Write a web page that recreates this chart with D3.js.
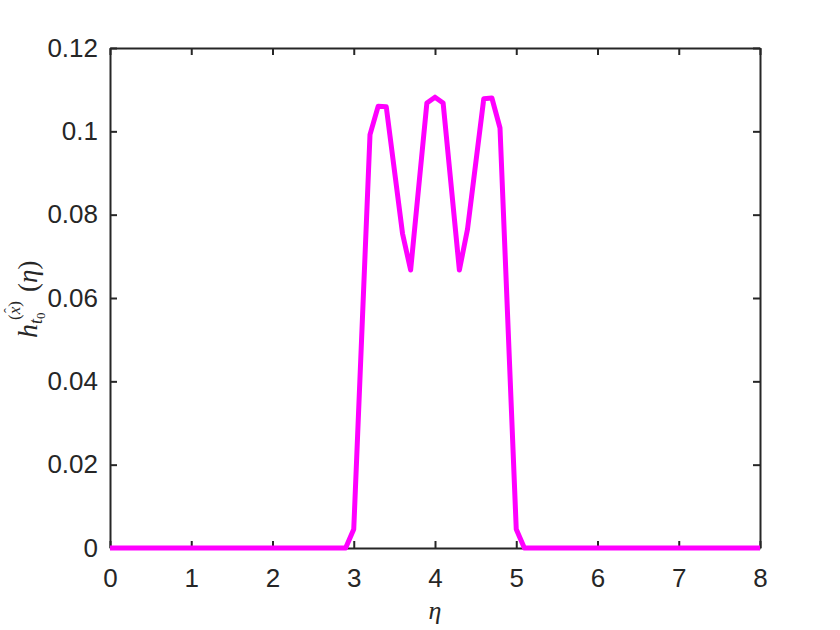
<!DOCTYPE html>
<html>
<head>
<meta charset="utf-8">
<script src="https://cdn.jsdelivr.net/npm/d3@7"></script>
<style>
  html, body { margin: 0; padding: 0; background: #fff; }
  svg { display: block; }
</style>
</head>
<body>
<div id="chart"></div>
<script>
// ---- data ----
const etaValues = [0, 2.9, 3.0, 3.2, 3.3, 3.4, 3.6, 3.7, 3.9, 4.0, 4.1, 4.3, 4.4, 4.6, 4.7, 4.8, 5.0, 5.1, 8];
const hValues   = [0, 0, 0.0045, 0.0992, 0.1060, 0.1059, 0.0755, 0.0667, 0.1068, 0.1082, 0.1068, 0.0667, 0.0765, 0.1078, 0.1080, 0.1008, 0.0045, 0, 0];
const xTicks = [0, 1, 2, 3, 4, 5, 6, 7, 8];
const yTicks = [0, 0.02, 0.04, 0.06, 0.08, 0.1, 0.12];
const yTickLabels = ["0", "0.02", "0.04", "0.06", "0.08", "0.1", "0.12"];

const W = 840, H = 630;
const mLeft = 110, mRight = 760, mTop = 48, mBottom = 548;
const axisColor = "#262626";
const tickFont = "Liberation Sans, Arial, Helvetica, sans-serif";
const mathFont = "Liberation Serif, Times New Roman, serif";

const svg = d3.select("#chart").append("svg").attr("width", W).attr("height", H);

const x = d3.scaleLinear().domain([0, 8]).range([mLeft, mRight]);
const y = d3.scaleLinear().domain([0, 0.12]).range([mBottom, mTop]);

// axes with inward ticks
const tickLen = 7;
const xAxis = d3.axisBottom(x).tickValues(xTicks).tickSizeInner(-tickLen).tickSizeOuter(0).tickPadding(21).tickFormat(d3.format("d"));
const yAxis = d3.axisLeft(y).tickValues(yTicks).tickSizeInner(-tickLen).tickSizeOuter(0).tickPadding(12).tickFormat((d, i) => yTickLabels[i]);
const xAxisTop = d3.axisTop(x).tickValues(xTicks).tickSizeInner(-tickLen).tickSizeOuter(0).tickFormat("");
const yAxisRight = d3.axisRight(y).tickValues(yTicks).tickSizeInner(-tickLen).tickSizeOuter(0).tickFormat("");

function style(g) {
  g.selectAll(".domain").attr("stroke", axisColor).attr("stroke-width", 2);
  g.selectAll(".tick line").attr("stroke", axisColor).attr("stroke-width", 2);
  g.selectAll(".tick text").attr("fill", axisColor).attr("font-family", tickFont).attr("font-size", 26);
}

svg.append("g").attr("transform", `translate(0,${mBottom})`).call(xAxis).call(style);
svg.append("g").attr("transform", `translate(${mLeft},0)`).call(yAxis).call(style);
svg.append("g").attr("transform", `translate(0,${mTop})`).call(xAxisTop).call(style);
svg.append("g").attr("transform", `translate(${mRight},0)`).call(yAxisRight).call(style);

// data line
const pts = etaValues.map((e, i) => [e, hValues[i]]);
svg.append("path")
  .datum(pts)
  .attr("fill", "none")
  .attr("stroke", "#ff00ff")
  .attr("stroke-width", 5)
  .attr("stroke-linejoin", "round")
  .attr("d", d3.line().x(d => x(d[0])).y(d => y(d[1])));

// x label
svg.append("text")
  .attr("x", (mLeft + mRight) / 2)
  .attr("y", 619)
  .attr("text-anchor", "middle")
  .attr("font-family", mathFont)
  .attr("font-style", "italic")
  .attr("font-size", 26)
  .attr("fill", axisColor)
  .text("η");

// y label  h_{t_0}^{(x̂)}(η)
const yl = svg.append("g").attr("transform", "translate(37,338) rotate(-90)")
  .attr("font-family", mathFont).attr("fill", axisColor);
yl.append("text").attr("x", 0).attr("y", 0).attr("font-size", 28).attr("font-style", "italic").text("h");
const sub = yl.append("text").attr("x", 14).attr("y", 5).attr("font-size", 18);
sub.append("tspan").attr("font-style", "italic").text("t");
sub.append("tspan").attr("font-size", 13).attr("dy", 3).text("0");
const sup = yl.append("text").attr("x", 18).attr("y", -17).attr("font-size", 17);
sup.append("tspan").text("(");
sup.append("tspan").attr("font-style", "italic").text("x");
sup.append("tspan").text(")");
// hat over x
yl.append("text").attr("x", 25).attr("y", -23).attr("font-size", 15).text("\u02C6");
const arg = yl.append("text").attr("x", 46).attr("y", 0).attr("font-size", 27);
arg.append("tspan").text("(");
arg.append("tspan").attr("font-style", "italic").text("η");
arg.append("tspan").text(")");
</script>
</body>
</html>
